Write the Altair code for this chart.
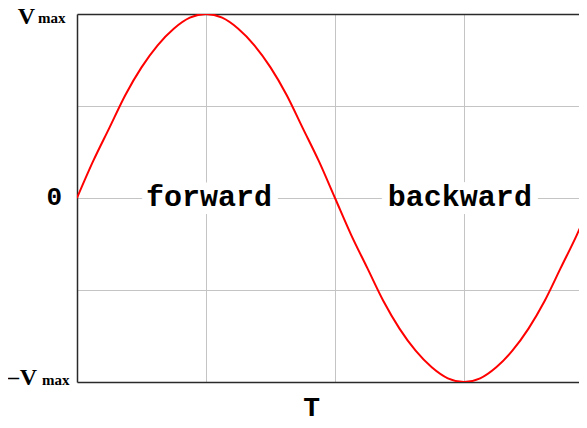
import altair as alt
import pandas as pd

# curve samples (fraction of period T, value as fraction of Vmax)
t_vals = [i / 32 for i in range(33)]
v_vals = [0.00, 0.20, 0.38, 0.56, 0.71, 0.83, 0.92, 0.98, 1.00, 0.98, 0.92, 0.83, 0.71, 0.56, 0.38, 0.20,
          0.00, -0.20, -0.38, -0.56, -0.71, -0.83, -0.92, -0.98, -1.00, -0.98, -0.92, -0.83, -0.71, -0.56,
          -0.38, -0.20, 0.00]
grid_x = [0.25, 0.5, 0.75]
grid_y = [-0.5, 0.0, 0.5]
phase_labels = ["forward", "backward"]
phase_x = [0.256, 0.742]
x_title = "T"
x_title_pos = 0.455

PLOT_W = 502
XMAX = PLOT_W / 516
MONO = "Courier New, Courier, Nimbus Mono PS, FreeMono, Liberation Mono, monospace"
SERIF = "Liberation Serif, Times New Roman, serif"
DOMAIN = "#2a2a2a"
GRID = "#c4c4c4"

df = pd.DataFrame({"t": t_vals, "v": v_vals})
ph = pd.DataFrame({"label": phase_labels, "x": phase_x, "y": [0, 0]})

xs = alt.Scale(domain=[0, XMAX], nice=False, zero=False)
ys = alt.Scale(domain=[-1, 1], nice=False, zero=False)
yaxis = alt.Axis(values=grid_y, grid=True, gridColor=GRID, labels=False, ticks=False,
                 title=None, domainColor=DOMAIN, domainWidth=1.5)

curve = alt.Chart(df).mark_line(color="#ff0000", strokeWidth=2, clip=True, interpolate="monotone").encode(
    x=alt.X("t:Q", scale=xs, axis=alt.Axis(values=grid_x, grid=True, gridColor=GRID, labels=False, ticks=False,
                                            title=None, domainColor=DOMAIN, domainWidth=1.5)),
    y=alt.Y("v:Q", scale=ys, axis=yaxis),
)

top = alt.Chart(df).mark_point(opacity=0).encode(
    x=alt.X("t:Q", scale=xs, axis=alt.Axis(orient="top", values=grid_x, grid=False, labels=False, ticks=False,
                                            title=None, domainColor=DOMAIN, domainWidth=1.5)),
    y=alt.Y("v:Q", scale=ys, axis=yaxis),
)

halo = alt.Chart(ph).mark_text(font=MONO, fontWeight="bold", fontSize=30, baseline="alphabetic", dy=8,
                               color="white", stroke="white", strokeWidth=16, strokeJoin="round").encode(
    x=alt.X("x:Q", scale=xs, axis=None), y=alt.Y("y:Q", scale=ys, axis=yaxis), text="label:N")
phase = alt.Chart(ph).mark_text(font=MONO, fontWeight="bold", fontSize=30, baseline="alphabetic", dy=8,
                                color="black").encode(
    x=alt.X("x:Q", scale=xs, axis=None), y=alt.Y("y:Q", scale=ys, axis=yaxis), text="label:N")

def lab(text, x, y, font, size, align, dx, dy):
    d = pd.DataFrame({"s": [text], "x": [x], "y": [y]})
    return alt.Chart(d).mark_text(
        font=font, fontWeight="bold", fontSize=size, align=align, baseline="alphabetic", dx=dx, dy=dy,
        color="black").encode(x=alt.X("x:Q", scale=xs, axis=None), y=alt.Y("y:Q", scale=ys, axis=yaxis),
                              text="s:N")

labels = [
    lab("V", 0, 1, SERIF, 24, "right", -42, 10),
    lab("max", 0, 1, SERIF, 15, "left", -39, 9),
    lab("0", 0, 0, MONO, 26, "right", -15, 7),
    lab("\u2013", 0, -1, SERIF, 22, "left", -69, 2),
    lab("V", 0, -1, SERIF, 24, "right", -40, 3),
    lab("max", 0, -1, SERIF, 15, "left", -35, 3),
    lab(x_title, x_title_pos, -1, MONO, 28, "center", 0, 34),
]

chart = alt.layer(curve, top, halo, phase, *labels).resolve_axis(x="independent").properties(
    width=PLOT_W, height=368,
    autosize=alt.AutoSizeParams(type="none"),
    padding={"left": 69, "top": 6, "right": 0, "bottom": 38},
).configure_view(stroke=None)

chart.save("out.html", embed_options={"renderer": "svg", "actions": False})
